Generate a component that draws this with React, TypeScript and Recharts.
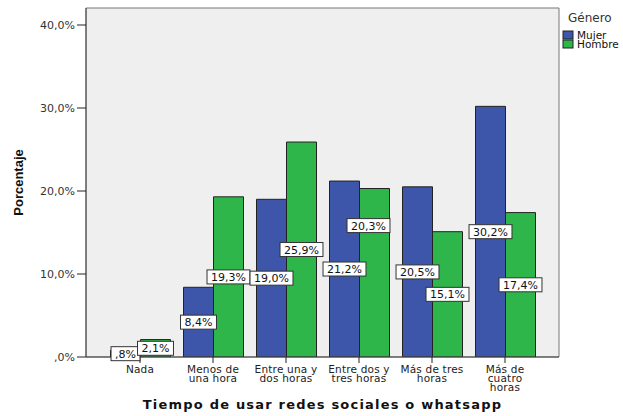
import React from "react";
import {
  BarChart,
  Bar,
  XAxis,
  YAxis,
  CartesianGrid,
  LabelList,
  Legend,
} from "recharts";

const categories = [
  "Nada",
  "Menos de\nuna hora",
  "Entre una y\ndos horas",
  "Entre dos y\ntres horas",
  "Más de tres\nhoras",
  "Más de\ncuatro\nhoras",
];
const mujer = [0.8, 8.4, 19.0, 21.2, 20.5, 30.2];
const hombre = [2.1, 19.3, 25.9, 20.3, 15.1, 17.4];
const yTicks = [0, 10, 20, 30, 40];
const seriesNames = ["Mujer", "Hombre"];
const legendTitle = "Género";
const xTitle = "Tiempo de usar redes sociales o whatsapp";
const yTitle = "Porcentaje";

const data = categories.map((c, i) => ({
  cat: c,
  Mujer: mujer[i],
  Hombre: hombre[i],
}));

const BLUE = "#3E56A9";
const GREEN = "#2FB64A";
const FONT = "'DejaVu Sans', sans-serif";

const fmtPct = (v: number) => {
  let s = v.toFixed(1).replace(".", ",");
  if (s.startsWith("0")) s = s.slice(1);
  return s + "%";
};

const charW = (ch: string) => {
  if (ch === ",") return 3.5;
  if (ch === "%") return 10.45;
  return 7.0;
};

const BH = 14;

const LabelBox = ({ cx, cy, value }: { cx: number; cy: number; value: number }) => {
  const text = fmtPct(value);
  let tw = 0;
  for (const ch of text) tw += charW(ch);
  const bw = tw + 8;
  return (
    <g>
      <rect
        x={cx - bw / 2}
        y={cy - BH / 2}
        width={bw}
        height={BH}
        fill="#ffffff"
        stroke="#333333"
        strokeWidth={1}
      />
      <text
        x={cx}
        y={cy + 4}
        textAnchor="middle"
        fontFamily={FONT}
        fontSize={11}
        fill="#111111"
      >
        {text}
      </text>
    </g>
  );
};

// Draws both series' labels on top of every bar, using the Hombre bar geometry
// from the library's scale (Mujer bar sits directly left, same baseline).
const PairLabels = (props: any) => {
  const { x, y, width, height, index } = props;
  const i = Number(index);
  const X = Number(x);
  const Y = Number(y);
  const W = Number(width);
  const H = Number(height);
  const base = Y + H;
  const hv = hombre[i];
  const mv = mujer[i];
  const mH = hv !== 0 ? (H * mv) / hv : 0;
  const cyM = base - mH / 2;
  let cyH = Y + H / 2;
  let cxH = X + W / 2;
  // label collision avoidance (as in the original): push the second label up
  if (Math.abs(cyM - cyH) < BH && H > 60) {
    cyH = base - H * 0.78;
    cxH = X + W / 2 - 6;
  }
  return (
    <g>
      <LabelBox cx={X - W / 2} cy={cyM} value={mv} />
      <LabelBox cx={cxH} cy={cyH} value={hv} />
    </g>
  );
};

const XTick = (props: any) => {
  const { x, payload } = props;
  const lines = String(payload.value).split("\n");
  return (
    <text
      x={x}
      y={373}
      textAnchor="middle"
      fontFamily={FONT}
      fontSize={10.5}
      letterSpacing={0.2}
      fill="#222222"
    >
      {lines.map((l, i) => (
        <tspan key={i} x={x} y={373 + i * 9}>
          {l}
        </tspan>
      ))}
    </text>
  );
};

const LegendContent = () => (
  <svg width={63} height={50}>
    <text x={8} y={14} fontFamily={FONT} fontSize={12} fill="#333333">
      {legendTitle}
    </text>
    <rect x={3} y={23} width={10} height={8} fill={BLUE} stroke="#222" strokeWidth={1} />
    <text x={17} y={31} fontFamily={FONT} fontSize={10.5} fill="#111">
      {seriesNames[0]}
    </text>
    <rect x={3} y={32} width={10} height={8} fill={GREEN} stroke="#222" strokeWidth={1} />
    <text x={17} y={40} fontFamily={FONT} fontSize={10.5} fill="#111">
      {seriesNames[1]}
    </text>
  </svg>
);

export default function App() {
  return (
    <div style={{ position: "absolute", left: 0, top: 0, width: 623, height: 416, background: "#fff" }}>
      <BarChart
        width={623}
        height={416}
        data={data}
        margin={{ top: 8, right: 64, bottom: 0, left: 0 }}
        barGap={0}
        barSize={30}
      >
        <CartesianGrid
          fill="#EFEFEF"
          stroke="#777777"
          strokeWidth={1}
          horizontalCoordinatesGenerator={({ offset }: any) => [offset.top, offset.top + offset.height]}
          verticalCoordinatesGenerator={({ offset }: any) => [offset.left, offset.left + offset.width]}
        />
        <XAxis
          dataKey="cat"
          interval={0}
          height={59}
          padding={{ left: 17.5, right: 17.5 }}
          tickSize={6}
          tickMargin={0}
          axisLine={{ stroke: "#444444" }}
          tickLine={{ stroke: "#222222" }}
          tick={<XTick />}
          label={{
            value: xTitle,
            position: "insideBottom",
            offset: 7,
            style: {
              fontFamily: FONT,
              fontSize: 13,
              fontWeight: "bold",
              letterSpacing: 1.2,
              fill: "#111",
            },
          }}
        />
        <YAxis
          width={86}
          domain={[0, 42.05]}
          ticks={yTicks}
          interval={0}
          tickSize={9}
          tickMargin={2}
          allowDataOverflow
          axisLine={{ stroke: "#444444" }}
          tickLine={{ stroke: "#222222" }}
          tick={{ fontFamily: FONT, fontSize: 11, fill: "#333333" }}
          tickFormatter={(v: number) => (v === 0 ? ",0%" : v.toFixed(1).replace(".", ",") + "%")}
          label={{
            value: yTitle,
            angle: -90,
            position: "insideLeft",
            offset: 0,
            dx: 18,
            style: {
              fontFamily: "'Liberation Sans', Arial, sans-serif",
              fontSize: 13,
              fontWeight: "bold",
              fill: "#111",
              textAnchor: "middle",
            },
          }}
        />
        <Legend
          layout="horizontal"
          verticalAlign="middle"
          align="center"
          content={<LegendContent />}
          wrapperStyle={{ position: "absolute", left: 560, top: 8, width: 63, height: 50 }}
        />
        <Bar dataKey="Mujer" fill={BLUE} stroke="#222" strokeWidth={1} isAnimationActive={false} />
        <Bar dataKey="Hombre" fill={GREEN} stroke="#222" strokeWidth={1} isAnimationActive={false}>
          <LabelList dataKey="Hombre" content={<PairLabels />} />
        </Bar>
      </BarChart>
    </div>
  );
}
